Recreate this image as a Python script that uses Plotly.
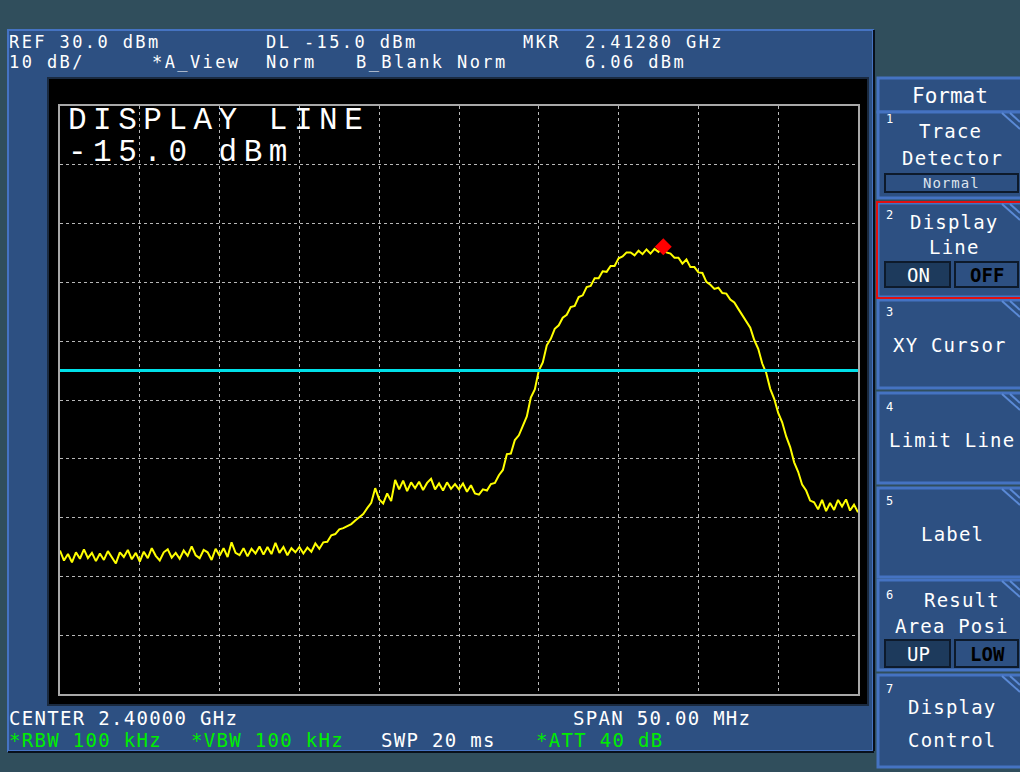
import plotly.graph_objects as go

# sweep: 2.375 - 2.425 GHz, 0.25 MHz steps (201 points)
start_ghz = 2.375
stop_ghz = 2.425
step_ghz = 0.00025
trace_dbm = [
    -45.6, -47.3, -46.2, -47.6, -45.9, -47.0, -45.4, -46.9, -46.0, -47.4,
    -46.1, -47.2, -45.7, -46.8, -47.8, -45.9, -46.7, -45.5, -47.1, -46.0,
    -47.5, -45.8, -46.9, -45.2, -46.5, -47.3, -45.9, -45.4, -46.8, -46.0,
    -47.0, -45.6, -46.5, -44.9, -46.4, -46.9, -45.5, -45.9, -47.2, -45.3,
    -46.5, -45.2, -46.7, -44.2, -46.0, -46.4, -45.2, -46.6, -45.3, -46.1,
    -44.9, -46.3, -45.0, -46.2, -44.3, -46.0, -45.0, -46.4, -45.2, -45.9,
    -45.0, -46.1, -45.1, -45.8, -44.4, -45.3, -44.2, -44.1, -43.0, -42.8,
    -42.0, -41.8, -41.4, -41.1, -40.5, -39.9, -39.4, -38.4, -37.5, -35.0,
    -36.9, -37.6, -35.9, -37.2, -33.6, -35.2, -33.7, -35.5, -34.0, -35.0,
    -33.9, -35.3, -34.1, -33.4, -35.2, -34.2, -35.4, -34.0, -35.1, -34.3,
    -35.2, -34.2, -35.6, -34.5, -35.9, -36.1, -35.2, -35.4, -34.3, -34.1,
    -32.8, -31.9, -29.2, -29.1, -26.8, -26.0, -24.5, -22.8, -19.6, -18.2,
    -15.0, -13.6, -10.7, -9.6, -7.9, -7.3, -6.0, -5.5, -4.2, -4.0,
    -2.5, -2.2, -0.8, -0.6, 0.7, 0.7, 1.9, 1.8, 2.8, 2.8,
    4.1, 4.4, 5.1, 5.1, 4.6, 5.4, 4.8, 5.6, 4.9, 5.7,
    5.2, 6.0, 5.1, 4.9, 4.2, 4.2, 3.2, 3.9, 2.6, 2.6,
    1.7, 1.6, 0.1, -0.4, -1.1, -0.9, -1.8, -1.9, -2.9, -3.4,
    -4.5, -5.6, -6.8, -7.7, -9.8, -11.3, -13.8, -15.4, -18.1, -19.8,
    -22.2, -23.8, -26.2, -28.0, -30.6, -32.2, -34.4, -35.4, -37.1, -37.4,
    -38.6, -37.0, -38.9, -37.5, -38.7, -37.0, -38.1, -36.9, -38.8, -37.8,
    -39.1,
]
freq_ghz = [start_ghz + i * step_ghz for i in range(len(trace_dbm))]

marker_freq = [2.4128]
marker_dbm = [6.06]
display_line_dbm = -15.0

BG = "#304e5c"
PANEL = "#2d5082"
EDGE = "#4573c2"
DARK = "#0d1a2b"
MONO = "DejaVu Sans Mono"

# plot area in pixels
L, R, T, B = 60, 858, 106, 694


def px(x):
    return (x - L) / (R - L)


def py(y):
    return (B - y) / (B - T)


shapes = []


def rect(x0, y0, x1, y1, fill, line_color=None, lw=0):
    shapes.append(dict(
        type="rect", xref="paper", yref="paper", layer="below",
        x0=px(x0), x1=px(x1), y0=py(y1), y1=py(y0),
        fillcolor=fill, line=dict(color=line_color or fill, width=lw)
    ))


def seg(x0, y0, x1, y1, color, lw=2):
    shapes.append(dict(
        type="line", xref="paper", yref="paper", layer="below",
        x0=px(x0), x1=px(x1), y0=py(y0), y1=py(y1),
        line=dict(color=color, width=lw)
    ))


# main instrument panel and screen
rect(8, 30, 873, 751, PANEL, EDGE, 2)
seg(874, 30, 874, 751, "#08101c", 2)
seg(8, 752, 874, 752, "#08101c", 2)
rect(48, 78, 868, 705, "#000000", "#1a2a40", 2)

# softkeys
rect(878, 78, 1022, 112, PANEL, EDGE, 3)
keys = [(112, 198), (203, 297), (300, 388), (393, 483), (488, 577), (580, 670), (675, 767)]
for y0, y1 in keys:
    rect(878, y0, 1022, y1, PANEL, EDGE, 3)
    seg(1002, y0 + 1, 1020, y0 + 17, "#5b8ad6")
    seg(1010, y0 + 1, 1020, y0 + 10, "#5b8ad6")
shapes.append(dict(type="rect", xref="paper", yref="paper", layer="above",
                   x0=px(877), x1=px(1022), y0=py(298), y1=py(202),
                   line=dict(color="#e01010", width=2)))
rect(885, 174, 1018, 192, PANEL, DARK, 2)
rect(885, 262, 950, 287, "#1d3a5c", DARK, 2)
rect(955, 262, 1018, 287, PANEL, DARK, 2)
rect(885, 640, 950, 667, "#1d3a5c", DARK, 2)
rect(955, 640, 1018, 667, PANEL, DARK, 2)

annotations = []


def text(x, y, s, size=20, color="white", anchor="left", family=MONO, spacing=0):
    if spacing:
        s = f'<span style="letter-spacing:{spacing}px">{s}</span>'
    annotations.append(dict(
        x=px(x), y=py(y), xref="paper", yref="paper", text=s,
        showarrow=False, xanchor=anchor, yanchor="middle",
        font=dict(family=family, size=size, color=color)
    ))


# header
for x, y, s in [(7, 42, "REF 30.0 dBm"), (7, 62, "10 dB/"), (150, 62, "*A_View"),
                (264, 42, "DL -15.0 dBm"), (264, 62, "Norm"), (354, 62, "B_Blank Norm"),
                (521, 42, "MKR"), (583, 42, "2.41280 GHz"), (583, 62, "6.06 dBm")]:
    text(x, y, s, size=17, spacing=2.4)

# footer
text(7, 718, "CENTER 2.40000 GHz", size=19, spacing=1.3)
text(7, 740, "*RBW 100 kHz", size=19, color="#00ee00", spacing=1.3)
text(189, 740, "*VBW 100 kHz", size=19, color="#00ee00", spacing=1.3)
text(379, 740, "SWP 20 ms", size=19, spacing=1.3)
text(571, 718, "SPAN 50.00 MHz", size=19, spacing=1.3)
text(534, 740, "*ATT 40 dB", size=19, color="#00ee00", spacing=1.3)

# on-screen label
text(66, 120, "DISPLAY LINE", size=31, family="Liberation Mono", spacing=6.5)
text(66, 152, "-15.0 dBm", size=31, family="Liberation Mono", spacing=6.5)

# softkey labels
text(950, 96, "Format", size=21, anchor="center")
text(884, 119, "1", size=12)
text(950, 131, "Trace", size=19, anchor="center", spacing=1.2)
text(952, 158, "Detector", size=19, anchor="center", spacing=1.2)
text(951, 183, "Normal", size=14, color="#dde4ee", anchor="center", spacing=1)
text(884, 215, "2", size=12)
text(954, 222, "Display", size=19, anchor="center", spacing=1.2)
text(954, 247, "Line", size=19, anchor="center", spacing=1.2)
text(918, 275, "ON", size=19, anchor="center")
text(987, 275, "<b>OFF</b>", size=19, color="#000000", anchor="center")
text(884, 312, "3", size=12)
text(950, 345, "XY Cursor", size=19, anchor="center", spacing=1.2)
text(884, 407, "4", size=12)
text(952, 440, "Limit Line", size=19, anchor="center", spacing=1.2)
text(884, 501, "5", size=12)
text(952, 534, "Label", size=19, anchor="center", spacing=1.2)
text(884, 595, "6", size=12)
text(962, 600, "Result", size=19, anchor="center", spacing=1.2)
text(952, 626, "Area Posi", size=19, anchor="center", spacing=1.2)
text(918, 654, "UP", size=19, anchor="center")
text(987, 654, "<b>LOW</b>", size=19, color="#000000", anchor="center")
text(884, 689, "7", size=12)
text(952, 707, "Display", size=19, anchor="center", spacing=1.2)
text(952, 740, "Control", size=19, anchor="center", spacing=1.2)

fig = go.Figure()

fig.add_trace(go.Scatter(
    x=freq_ghz, y=trace_dbm, mode="lines",
    line=dict(color="#ffff00", width=2), hoverinfo="skip"
))
# display line across the full span
fig.add_trace(go.Scatter(
    x=[start_ghz, stop_ghz], y=[display_line_dbm, display_line_dbm], mode="lines",
    line=dict(color="#00e0e8", width=3), hoverinfo="skip"
))
fig.add_trace(go.Scatter(
    x=marker_freq, y=marker_dbm, mode="markers",
    marker=dict(symbol="diamond", size=13, color="#ff0000")
))

fig.update_layout(
    shapes=shapes,
    annotations=annotations,
    width=1020, height=772,
    margin=dict(l=L, r=1020 - R, t=T, b=772 - B, pad=0),
    paper_bgcolor=BG, plot_bgcolor="#000000",
    showlegend=False,
    xaxis=dict(range=[start_ghz, stop_ghz], dtick=0.005, tick0=start_ghz,
               showgrid=True, gridcolor="#b8b8b8", griddash="dot", gridwidth=1,
               showticklabels=False, zeroline=False,
               showline=True, linecolor="#a8a8a8", linewidth=2, mirror=True),
    yaxis=dict(range=[-70, 30], dtick=10, tick0=-70,
               showgrid=True, gridcolor="#b8b8b8", griddash="dot", gridwidth=1,
               showticklabels=False, zeroline=False,
               showline=True, linecolor="#a8a8a8", linewidth=2, mirror=True),
)

# page body margin would shift the figure by 8px
fig.write_html("out.html", config={"displayModeBar": False},
               post_script="document.body.style.margin='0';")
